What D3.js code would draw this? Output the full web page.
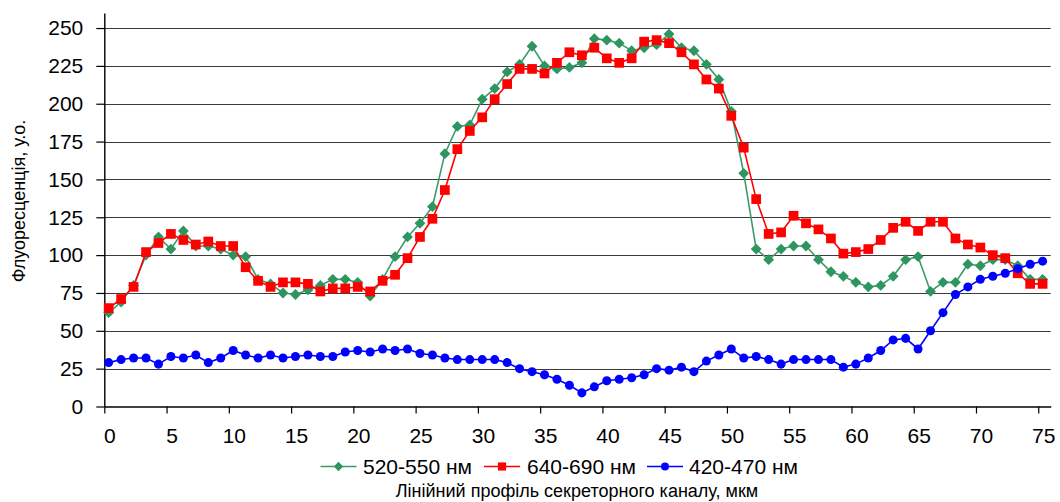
<!DOCTYPE html>
<html>
<head>
<meta charset="utf-8">
<script src="https://cdn.jsdelivr.net/npm/d3@7"></script>
<style>
  body { margin: 0; background: #fff; }
  svg { display: block; font-family: "Liberation Sans", Arial, sans-serif; }
</style>
</head>
<body>
<svg id="chart" width="1060" height="502"></svg>
<script>
// Sampling positions along the profile, µm
const positions = [
  0.35, 1.35, 2.35, 3.35, 4.35, 5.35, 6.35, 7.35, 8.35, 9.35,
  10.35, 11.35, 12.35, 13.35, 14.35, 15.35, 16.35, 17.35, 18.35, 19.35,
  20.35, 21.35, 22.35, 23.35, 24.35, 25.35, 26.35, 27.35, 28.35, 29.35,
  30.35, 31.35, 32.35, 33.35, 34.35, 35.35, 36.35, 37.35, 38.35, 39.35,
  40.35, 41.35, 42.35, 43.35, 44.35, 45.35, 46.35, 47.35, 48.35, 49.35,
  50.35, 51.35, 52.35, 53.35, 54.35, 55.35, 56.35, 57.35, 58.35, 59.35,
  60.35, 61.35, 62.35, 63.35, 64.35, 65.35, 66.35, 67.35, 68.35, 69.35,
  70.35, 71.35, 72.35, 73.35, 74.35, 75.35
];

// Fluorescence, arbitrary units
const green520 = [
  62, 69, 80, 100, 112, 104, 116, 106, 106, 104,
  100, 99, 84, 81, 75, 74, 77, 80, 84, 84,
  82, 73, 84, 99, 112, 121, 132, 167, 185, 186,
  203, 210, 221, 226, 238, 225, 223, 224, 227, 243,
  242, 240, 235, 237, 239, 246, 237, 235, 226, 216,
  195, 154, 104, 97, 104, 106, 106, 97, 89, 86,
  82, 79, 80, 86, 97, 99, 76, 82, 82, 94,
  93, 97, 97, 93, 84, 84
];

const red640 = [
  65, 71, 79, 102, 108, 114, 110, 107, 109, 106,
  106, 92, 83, 79, 82, 82, 81, 76, 78, 78,
  79, 76, 83, 87, 98, 112, 124, 143, 170, 182,
  191, 203, 213, 223, 223, 220, 227, 234, 232, 237,
  230, 227, 230, 241, 242, 240, 234, 226, 216, 210,
  192, 171, 137, 114, 115, 126, 121, 117, 111, 101,
  102, 104, 110, 118, 122, 116, 122, 122, 111, 107,
  105, 100, 98, 88, 81, 81
];

const blue420 = [
  29, 31, 32, 32, 28, 33, 32, 34, 29, 32,
  37, 34, 32, 34, 32, 33, 34, 33, 33, 36,
  37, 36, 38, 37, 38, 35, 34, 32, 31, 31,
  31, 31, 29, 25, 23, 21, 18, 14, 9, 13,
  17, 18, 19, 21, 25, 24, 26, 23, 30, 34,
  38, 32, 33, 31, 28, 31, 31, 31, 31, 26,
  28, 32, 37, 44, 45, 38, 50, 62, 74, 79,
  84, 86, 88, 91, 94, 96
];

const seriesNames = ["520-550 нм", "640-690 нм", "420-470 нм"];
const seriesColors = ["#2e9460", "#ff0000", "#0000ff"];
const lineColors = ["#3c9a6a", "#ff0000", "#0000ff"];
const seriesSymbols = [d3.symbolDiamond2, d3.symbolSquare2, d3.symbolCircle];
const markerSizes = [75, 120, 64];
const legendMarkerSizes = [55, 85, 50];
const seriesValues = [green520, red640, blue420];

const yTicks = [0, 25, 50, 75, 100, 125, 150, 175, 200, 225, 250];
const xTicks = [0, 5, 10, 15, 20, 25, 30, 35, 40, 45, 50, 55, 60, 65, 70, 75];
const xTitle = "Лінійний профіль секреторного каналу, мкм";
const yTitle = "Флуоресценція, у.о.";

const svg = d3.select("#chart");
const plotLeft = 104.3, plotRight = 1050.7, plotBottom = 406.5, plotTop = 12.9;

const x = d3.scaleLinear().domain([0, 76]).range([plotLeft, plotRight]);
const y = d3.scaleLinear().domain([0, 260]).range([plotBottom, plotTop]);

// Horizontal gridlines
svg.append("g")
  .selectAll("line")
  .data(yTicks.filter(t => t > 0))
  .join("line")
  .attr("x1", plotLeft).attr("x2", plotRight)
  .attr("y1", d => Math.round(y(d)) + 0.5).attr("y2", d => Math.round(y(d)) + 0.5)
  .attr("stroke", "#3a3a3a").attr("stroke-width", 1.2);

// Y axis
const yAxis = svg.append("g")
  .attr("transform", `translate(${plotLeft},0)`)
  .call(d3.axisLeft(y).tickValues(yTicks).tickSize(8).tickSizeOuter(0).tickPadding(13));
yAxis.select(".domain").attr("stroke", "#000").attr("stroke-width", 1.4);
yAxis.selectAll(".tick line").attr("stroke", "#000").attr("stroke-width", 1.2);
yAxis.selectAll(".tick text").attr("font-size", 21).attr("fill", "#000")
  .attr("font-family", "Liberation Sans, Arial, sans-serif");

// X axis
const xAxis = svg.append("g")
  .attr("transform", `translate(0,${plotBottom})`)
  .call(d3.axisBottom(x).tickValues(xTicks).tickSize(7).tickSizeOuter(0).tickPadding(15));
xAxis.select(".domain").attr("stroke", "#000").attr("stroke-width", 1.4);
xAxis.selectAll(".tick line").attr("stroke", "#000").attr("stroke-width", 1.2);
xAxis.selectAll(".tick text").attr("font-size", 21).attr("fill", "#000")
  .attr("dx", 5)
  .attr("font-family", "Liberation Sans, Arial, sans-serif");

// Series lines and markers
const line = d3.line().x((d, i) => x(positions[i])).y(d => y(d));
seriesValues.forEach((vals, k) => {
  const g = svg.append("g");
  g.append("path")
    .datum(vals)
    .attr("d", line)
    .attr("fill", "none")
    .attr("stroke", lineColors[k])
    .attr("stroke-width", 1.6);
  g.selectAll("path.mark")
    .data(vals)
    .join("path")
    .attr("class", "mark")
    .attr("transform", (d, i) => `translate(${x(positions[i])},${y(d)})`)
    .attr("d", d3.symbol(seriesSymbols[k], markerSizes[k]))
    .attr("fill", seriesColors[k]);
});

// Legend
const legendItems = [
  { lx: 320.5, tx: 363 },
  { lx: 484, tx: 527 },
  { lx: 647, tx: 689 }
];
const ly = 466.5;
seriesNames.forEach((name, k) => {
  const g = svg.append("g");
  g.append("line")
    .attr("x1", legendItems[k].lx).attr("x2", legendItems[k].lx + 36)
    .attr("y1", ly).attr("y2", ly)
    .attr("stroke", lineColors[k]).attr("stroke-width", 1.6);
  g.append("path")
    .attr("transform", `translate(${legendItems[k].lx + 18},${ly})`)
    .attr("d", d3.symbol(seriesSymbols[k], legendMarkerSizes[k]))
    .attr("fill", seriesColors[k]);
  g.append("text")
    .attr("x", legendItems[k].tx).attr("y", ly + 7.5)
    .attr("font-size", 21).attr("fill", "#000")
    .text(name);
});

// Axis titles
svg.append("text")
  .attr("x", 577).attr("y", 497)
  .attr("text-anchor", "middle")
  .attr("font-size", 18).attr("fill", "#000")
  .text(xTitle);

svg.append("text")
  .attr("transform", "translate(25,201) rotate(-90)")
  .attr("text-anchor", "middle")
  .attr("font-size", 18).attr("fill", "#000")
  .text(yTitle);
</script>
</body>
</html>
